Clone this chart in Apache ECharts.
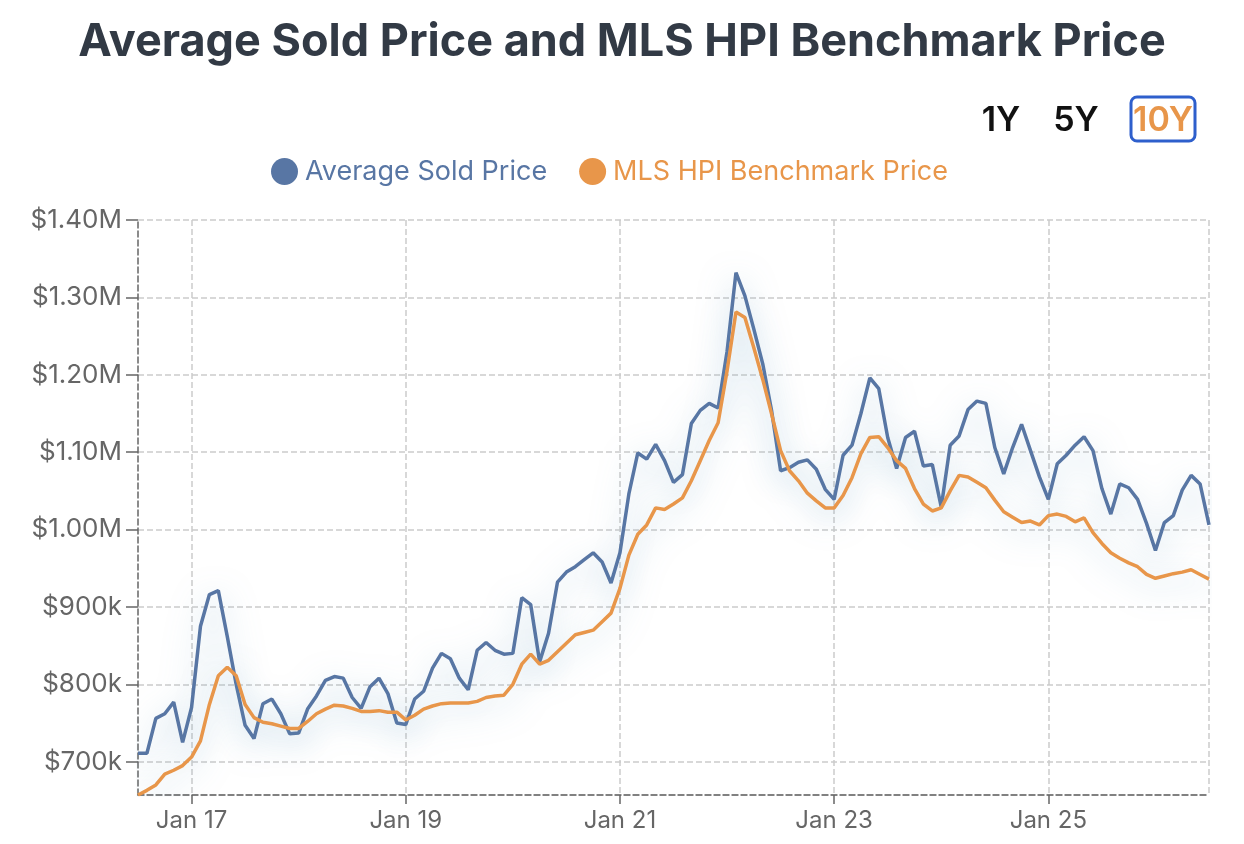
<!DOCTYPE html>
<html>
<head>
<meta charset="utf-8">
<script src="https://cdn.jsdelivr.net/npm/echarts@6/dist/echarts.min.js"></script>
<style>
  html, body { margin: 0; padding: 0; background: #fff; }
  #chart { width: 1244px; height: 844px; }
</style>
</head>
<body>
<div id="chart"></div>
<script>
// monthly points, Jul 2016 .. Jul 2026 (values in $k)
var startYear = 2016, startMonth = 7;
var avgSoldK = [
  711, 711, 756, 762, 777, 725, 770, 875, 916, 921, 862, 800,
  747, 730, 775, 781, 762, 736, 737, 768, 785, 805, 810, 808,
  783, 769, 797, 808, 788, 750, 748, 781, 791, 821, 840, 833,
  808, 793, 844, 854, 844, 839, 840, 912, 903, 829, 866, 932,
  945, 952, 961, 970, 958, 931, 970, 1046, 1099, 1091, 1110, 1089,
  1061, 1071, 1137, 1154, 1163, 1157, 1230, 1332, 1302, 1259, 1214, 1153,
  1076, 1080, 1087, 1090, 1078, 1052, 1039, 1096, 1109, 1150, 1196, 1182,
  1119, 1079, 1119, 1127, 1082, 1084, 1029, 1109, 1121, 1155, 1166, 1163,
  1106, 1072, 1106, 1136, 1102, 1068, 1039, 1085, 1096, 1109, 1120, 1102,
  1053, 1020, 1059, 1054, 1039, 1008, 973, 1009, 1018, 1051, 1070, 1059,
  1006
];
var hpiBenchK = [
  657, 663, 670, 684, 689, 695, 706, 727, 774, 811, 822, 811,
  774, 757, 751, 749, 746, 743, 743, 752, 762, 768, 773, 772,
  769, 765, 765, 766, 764, 764, 754, 760, 768, 772, 775, 776,
  776, 776, 778, 783, 785, 786, 800, 826, 839, 826, 831, 842,
  853, 864, 867, 870, 881, 892, 924, 967, 994, 1006, 1028, 1026,
  1033, 1041, 1063, 1089, 1115, 1138, 1205, 1281, 1274, 1235, 1194, 1149,
  1102, 1076, 1063, 1047, 1037, 1028, 1028, 1044, 1067, 1098, 1119, 1120,
  1106, 1089, 1079, 1053, 1033, 1024, 1028, 1050, 1070, 1068, 1061, 1054,
  1038, 1023, 1016, 1009, 1011, 1006, 1018, 1020, 1017, 1010, 1015, 996,
  982, 970, 963, 957, 952, 942, 937, 940, 943, 945, 948, 942,
  936
];
var rangeButtons = ['1Y', '5Y', '10Y'];
var monthNames = ['Jan','Feb','Mar','Apr','May','Jun','Jul','Aug','Sep','Oct','Nov','Dec'];

var months = [];
for (var i = 0; i < avgSoldK.length; i++) {
  var m = (startMonth - 1 + i) % 12;
  var y = startYear + Math.floor((startMonth - 1 + i) / 12);
  months.push(monthNames[m] + ' ' + String(y).slice(2));
}

// label every second January (odd years)
function isLabelMonth(idx) {
  var m = (startMonth - 1 + idx) % 12;
  var y = startYear + Math.floor((startMonth - 1 + idx) / 12);
  return m === 0 && y % 2 === 1;
}

var BLUE = '#5876a4', ORANGE = '#e8964a';
var FONT = 'Inter, "Noto Sans", sans-serif';
var GLOW = 'rgba(105,160,195,0.5)';

var chart = echarts.init(document.getElementById('chart'));
chart.setOption({
  animation: false,
  textStyle: { fontFamily: FONT },
  title: {
    text: 'Average Sold Price and MLS HPI Benchmark Price',
    left: 'center',
    top: 15,
    textStyle: { fontSize: 45, fontWeight: 'bold', color: '#323a45', fontFamily: FONT }
  },
  legend: {
    top: 153,
    left: 266,
    icon: 'circle',
    itemWidth: 27,
    itemHeight: 27,
    itemGap: 32,
    textStyle: { fontSize: 27, fontFamily: FONT, padding: [0, 0, 0, 2] },
    data: [
      { name: 'Average Sold Price', textStyle: { color: BLUE } },
      { name: 'MLS HPI Benchmark Price', textStyle: { color: ORANGE } }
    ]
  },
  graphic: [
    {
      type: 'text',
      style: { x: 1001, y: 121, text: rangeButtons[0], textAlign: 'center', textVerticalAlign: 'middle',
        fontSize: 34, fontWeight: 600, fill: '#111', fontFamily: FONT }
    },
    {
      type: 'text',
      style: { x: 1076, y: 121, text: rangeButtons[1], textAlign: 'center', textVerticalAlign: 'middle',
        fontSize: 34, fontWeight: 600, fill: '#111', fontFamily: FONT }
    },
    {
      type: 'rect',
      shape: { x: 1131, y: 97, width: 64, height: 44, r: 6 },
      style: { fill: 'none', stroke: '#2e5fcc', lineWidth: 3 }
    },
    {
      type: 'text',
      style: { x: 1163, y: 121, text: rangeButtons[2], textAlign: 'center', textVerticalAlign: 'middle',
        fontSize: 34, fontWeight: 600, fill: ORANGE, fontFamily: FONT }
    }
  ],
  grid: { left: 138, right: 35, top: 220, bottom: 49 },
  xAxis: {
    type: 'category',
    boundaryGap: false,
    data: months,
    axisLine: { lineStyle: { color: '#666', type: 'dashed', width: 1.5 } },
    axisTick: {
      interval: function (idx) { return isLabelMonth(idx); },
      length: 9,
      lineStyle: { color: '#666', width: 1.5 }
    },
    axisLabel: {
      interval: function (idx) { return isLabelMonth(idx); },
      color: '#666',
      fontSize: 24,
      margin: 14,
      fontFamily: FONT
    },
    splitLine: {
      show: true,
      interval: function (idx) { return isLabelMonth(idx) || idx === months.length - 1; },
      lineStyle: { color: '#ccc', type: 'dashed', width: 1.5 }
    }
  },
  yAxis: {
    type: 'value',
    min: 'dataMin',
    max: 1400,
    axisLine: { show: true, lineStyle: { color: '#666', type: 'dashed', width: 1.5 } },
    axisTick: { show: true, length: 12, lineStyle: { color: '#666', width: 1.5 } },
    axisLabel: {
      showMinLabel: false,
      color: '#666',
      fontSize: 26,
      margin: 16,
      fontFamily: FONT,
      formatter: function (v) {
        if (v >= 1000) return '$' + (v / 1000).toFixed(2) + 'M';
        return '$' + Math.round(v) + 'k';
      }
    },
    splitLine: { lineStyle: { color: '#ccc', type: 'dashed', width: 1.5 } }
  },
  series: [
    {
      name: 'Average Sold Price',
      type: 'line',
      data: avgSoldK,
      symbol: 'none',
      color: BLUE,
      lineStyle: { width: 3.5, color: BLUE, shadowColor: GLOW, shadowBlur: 30, shadowOffsetY: 8 }
    },
    {
      name: 'MLS HPI Benchmark Price',
      type: 'line',
      data: hpiBenchK,
      symbol: 'none',
      color: ORANGE,
      lineStyle: { width: 3.5, color: ORANGE, shadowColor: GLOW, shadowBlur: 30, shadowOffsetY: 8 }
    }
  ]
});
</script>
</body>
</html>
